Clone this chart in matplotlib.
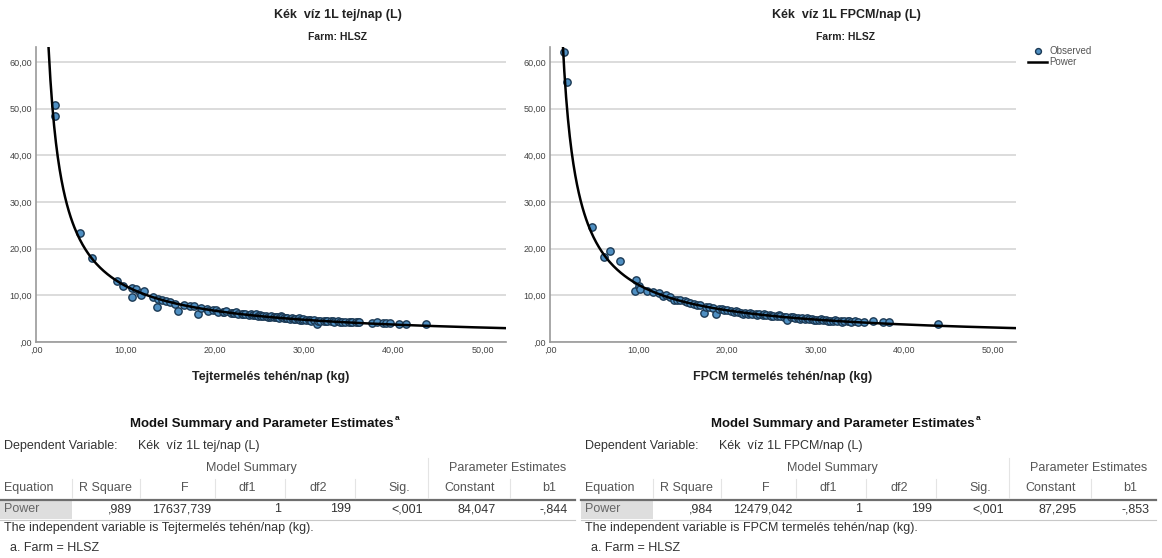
import numpy as np
import matplotlib.pyplot as plt
from matplotlib import font_manager
from matplotlib.lines import Line2D
from matplotlib.patches import Rectangle
from matplotlib.ticker import FuncFormatter

# observed points, left chart (milk yield vs blue water per 1 L milk)
tej_x = [2.1, 2.1, 4.9, 6.3, 9.1, 9.7, 10.7, 10.7, 11.2, 11.6, 11.8, 12.1, 13.1, 13.5, 13.7,
         14.1, 14.6, 15.0, 15.6, 15.9, 16.6, 17.2, 17.7, 18.1, 18.5, 19.1, 19.3, 19.8, 20.1,
         20.4, 20.9, 21.0, 21.3, 21.8, 22.0, 22.2, 22.4, 22.6, 23.0, 23.2, 23.4, 23.8, 24.1,
         24.3, 24.5, 24.6, 24.8, 25.1, 25.2, 25.4, 25.7, 26.0, 26.2, 26.3, 26.6, 26.9, 27.0,
         27.2, 27.4, 27.5, 27.8, 28.0, 28.1, 28.4, 28.7, 28.9, 29.0, 29.3, 29.4, 29.6, 29.8,
         29.9, 30.2, 30.5, 30.7, 30.8, 31.1, 31.5, 31.6, 31.8, 32.2, 32.4, 32.6, 33.0, 33.2,
         33.4, 33.8, 34.0, 34.2, 34.6, 35.0, 35.2, 35.4, 35.8, 36.0, 36.2, 37.6, 38.2, 38.8,
         39.2, 39.6, 40.6, 41.4, 43.6]
tej_y = [50.8, 48.5, 23.3, 18.0, 13.0, 11.9, 9.7, 11.6, 11.3, 10.6, 10.1, 10.9, 9.7, 7.6, 9.2,
         8.9, 8.7, 8.6, 8.1, 6.7, 8.0, 7.7, 7.8, 5.9, 7.2, 7.1, 6.6, 6.9, 6.8,
         6.5, 6.4, 6.5, 6.6, 6.2, 6.2, 6.3, 6.5, 6.1, 6.0, 5.9, 6.1, 5.8, 5.9,
         5.8, 5.7, 6.0, 5.6, 5.8, 5.6, 5.5, 5.6, 5.4, 5.4, 5.5, 5.3, 5.4, 5.3,
         5.2, 5.5, 5.3, 5.1, 5.1, 5.2, 5.0, 5.1, 5.0, 4.9, 5.0, 5.2, 4.8, 4.8,
         4.9, 4.7, 4.8, 4.7, 4.6, 4.7, 3.9, 4.6, 4.6, 4.5, 4.5, 4.4, 4.5, 4.4,
         4.3, 4.4, 4.3, 4.3, 4.2, 4.3, 4.2, 4.2, 4.2, 4.2, 4.3, 4.1, 4.2, 4.1,
         4.1, 4.1, 3.9, 3.9, 3.75]

# observed points, right chart (FPCM yield)
fpcm_x = [1.6, 1.9, 4.7, 6.15, 6.8, 7.9, 9.6, 9.7, 10.0, 10.2, 10.9, 11.6, 12.3, 12.7, 13.1,
          13.6, 14.0, 14.3, 14.7, 15.2, 15.5, 15.8, 16.3, 16.6, 16.9, 17.4, 17.6, 18.0, 18.4,
          18.7, 19.1, 19.4, 19.6, 20.0, 20.4, 20.8, 21.0, 21.2, 21.6, 21.8, 22.0, 22.4, 22.6,
          22.8, 23.2, 23.4, 23.6, 24.0, 24.2, 24.4, 24.8, 25.0, 25.2, 25.6, 25.8, 26.0, 26.4,
          26.6, 26.8, 27.2, 27.4, 27.6, 28.0, 28.2, 28.4, 28.8, 29.0, 29.2, 29.6, 29.8, 30.0,
          30.4, 30.6, 30.8, 31.2, 31.4, 31.6, 32.0, 32.2, 32.4, 32.8, 33.0, 33.2, 33.6, 33.8,
          34.0, 34.4, 34.8, 35.4, 36.5, 37.6, 38.3, 43.8]
fpcm_y = [62.1, 55.7, 24.7, 18.3, 19.6, 17.3, 11.0, 13.2, 12.1, 11.4, 11.0, 10.7, 10.5, 9.9, 10.1,
          9.6, 8.9, 9.1, 8.9, 8.7, 8.5, 8.3, 8.1, 8.0, 7.9, 6.2, 7.6, 7.5, 7.3,
          5.9, 7.1, 7.0, 6.9, 6.8, 6.6, 6.5, 6.6, 6.4, 6.3, 6.1, 6.3, 6.1, 6.3,
          6.0, 6.0, 5.8, 5.9, 5.8, 6.0, 5.7, 5.7, 5.5, 5.6, 5.5, 5.7, 5.5, 5.4,
          5.3, 4.8, 5.3, 5.4, 5.2, 5.2, 5.0, 5.1, 5.0, 5.1, 5.0, 4.9, 4.7, 4.8,
          4.8, 4.9, 4.7, 4.7, 4.5, 4.6, 4.6, 4.8, 4.5, 4.6, 4.3, 4.4, 4.4, 4.6,
          4.3, 4.4, 4.3, 4.2, 4.5, 4.2, 4.3, 3.8]

# fitted power models from the tables (y = constant * x ** b1)
tej_const, tej_b1 = 84.047, -0.844
fpcm_const, fpcm_b1 = 87.295, -0.853

tab_headers = ['Equation', 'R Square', 'F', 'df1', 'df2', 'Sig.', 'Constant', 'b1']
tej_row = ['Power', ',989', '17637,739', '1', '199', '<,001', '84,047', '-,844']
fpcm_row = ['Power', ',984', '12479,042', '1', '199', '<,001', '87,295', '-,853']

W, H = 1162, 558


def fx(px):
    return px / W


def fy(py):
    return 1 - py / H


def has_font(name):
    try:
        font_manager.findfont(name, fallback_to_default=False)
        return True
    except ValueError:
        return False


arial = ['Liberation Sans', 'DejaVu Sans']
if has_font('Liberation Sans Narrow'):
    narrow, big = ['Liberation Sans Narrow', 'Liberation Sans', 'DejaVu Sans'], 10.5
else:
    narrow, big = arial, 9
plt.rcParams['font.family'] = narrow

fig = plt.figure(figsize=(W / 100, H / 100), dpi=100)


def fmt(v, pos):
    return ',00' if v == 0 else ('%.2f' % v).replace('.', ',')


def draw_chart(left, right, xs, ys, const, b1, title, title_x, xlabel, legend=False):
    ax = fig.add_axes([fx(left), fy(342), fx(right - left), (342 - 47) / H])
    xc = np.linspace(1.2, 52.6, 500)
    ax.scatter(xs, ys, s=28, facecolor='#4f8fc2', edgecolor='#1b3954', linewidths=1.0,
               zorder=3, label='Observed')
    ax.plot(xc, const * xc ** b1, color='black', lw=1.8, zorder=4, label='Power')
    ax.set_xlim(0, 52.6)
    ax.set_ylim(0, 63.2)
    ax.set_xticks(range(0, 51, 10))
    ax.set_yticks(range(0, 61, 10))
    ax.xaxis.set_major_formatter(FuncFormatter(fmt))
    ax.yaxis.set_major_formatter(FuncFormatter(fmt))
    ax.yaxis.grid(True, color='#d6d6d6', lw=1.2)
    ax.set_axisbelow(True)
    for s in ['top', 'right']:
        ax.spines[s].set_visible(False)
    for s in ['left', 'bottom']:
        ax.spines[s].set_color('#999999')
        ax.spines[s].set_linewidth(1.2)
    ax.tick_params(length=0, labelsize=6.5, colors='#444444', pad=3)
    fig.text(fx(title_x), fy(15), title, ha='center', va='center', fontsize=big,
             fontweight='bold', color='#222222')
    fig.text(fx(title_x), fy(37), 'Farm: HLSZ', ha='center', va='center', fontsize=7.5,
             fontweight='bold', color='#222222')
    fig.text(fx((left + right) / 2), fy(377), xlabel, ha='center', va='center', fontsize=big,
             fontweight='bold', color='#222222')
    if legend:
        ax.legend(loc='upper left', bbox_to_anchor=(fx(1028), fy(46)), bbox_transform=fig.transFigure,
                  frameon=False, fontsize=7, handlelength=2.0, handletextpad=0.2, labelspacing=0.15,
                  borderpad=0, borderaxespad=0, markerscale=0.8, labelcolor='#555555')
    return ax


draw_chart(36, 506, tej_x, tej_y, tej_const, tej_b1, 'Kék  víz 1L tej/nap (L)', 338,
           'Tejtermelés tehén/nap (kg)')
draw_chart(550, 1016, fpcm_x, fpcm_y, fpcm_const, fpcm_b1, 'Kék  víz 1L FPCM/nap (L)', 846,
           'FPCM termelés tehén/nap (kg)', legend=True)

renderer = fig.canvas.get_renderer()


def draw_table(x0, dep_text, indep_text, row):
    def t(px, py, s, **kw):
        kw.setdefault('family', arial)
        kw.setdefault('fontsize', 9)
        kw.setdefault('color', '#333333')
        return fig.text(fx(x0 + px), fy(py), s, va='center', **kw)

    head = t(262, 424, 'Model Summary and Parameter Estimates', ha='center', fontsize=9.5,
             fontweight='bold', color='#111111')
    x_end = head.get_window_extent(renderer).x1
    fig.text(x_end / W + 0.001, fy(419), 'a', ha='left', va='center', fontsize=6,
             fontweight='bold', color='#111111', family=arial)
    t(4, 446, 'Dependent Variable:', ha='left')
    t(138, 446, dep_text, ha='left')
    t(251, 468, 'Model Summary', ha='center', color='#555555')
    t(508, 468, 'Parameter Estimates', ha='center', color='#555555')

    head_pos = [(4, 'left'), (132, 'right'), (185, 'center'), (247, 'center'), (318, 'center'),
                (399, 'center'), (470, 'center'), (549, 'center')]
    val_pos = [4, 132, 211, 281, 351, 423, 496, 568]
    for (px, ha), h in zip(head_pos, tab_headers):
        t(px, 488, h, ha=ha, color='#555555')

    fig.add_artist(Rectangle((fx(x0), fy(519)), fx(72), (519 - 500) / H,
                             transform=fig.transFigure, facecolor='#dedede', edgecolor='none'))
    for i, (px, v) in enumerate(zip(val_pos, row)):
        t(px, 509, v, ha='left' if i == 0 else 'right', color='#666666' if i == 0 else '#333333')

    # rules
    fig.add_artist(Line2D([fx(x0), fx(x0 + 575)], [fy(499.5), fy(499.5)], transform=fig.transFigure,
                          color='#6e6e6e', lw=1.6))
    fig.add_artist(Line2D([fx(x0), fx(x0 + 575)], [fy(519.5), fy(519.5)], transform=fig.transFigure,
                          color='#c8c8c8', lw=0.8))
    for vx in [72, 140, 215, 285, 355, 510]:
        fig.add_artist(Line2D([fx(x0 + vx), fx(x0 + vx)], [fy(479), fy(498)], transform=fig.transFigure,
                              color='#e4e4e4', lw=0.8))
    fig.add_artist(Line2D([fx(x0 + 428), fx(x0 + 428)], [fy(458), fy(498)], transform=fig.transFigure,
                          color='#e4e4e4', lw=0.8))

    t(4, 528, indep_text, ha='left')
    t(10, 548, 'a. Farm = HLSZ', ha='left')


draw_table(0, 'Kék  víz 1L tej/nap (L)', 'The independent variable is Tejtermelés tehén/nap (kg).', tej_row)
draw_table(581, 'Kék  víz 1L FPCM/nap (L)', 'The independent variable is FPCM termelés tehén/nap (kg).', fpcm_row)

fig.savefig('out.png', dpi=100)
